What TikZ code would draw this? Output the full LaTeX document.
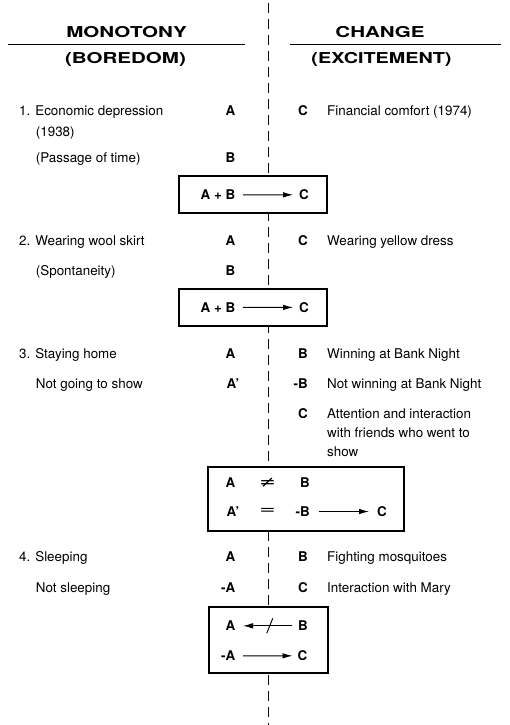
\documentclass[tikz,border=0pt]{standalone}
\usepackage{fontspec}
\setmainfont{TeX Gyre Heros}
\newfontfamily\relfont{DejaVu Sans}
\usetikzlibrary{arrows.meta,calc}
\begin{document}
\begin{tikzpicture}[x=1pt,y=-1pt,
  body/.style={inner sep=0pt, font=\fontsize{13.4}{16}\selectfont},
  let/.style={inner sep=0pt, font=\fontsize{13.4}{16}\selectfont\bfseries},
  hdr/.style={inner sep=0pt, font=\fontsize{15}{18}\selectfont\bfseries},
  rel/.style={inner sep=0pt, font=\fontsize{13.4}{16}\relfont},
  boxst/.style={draw, line width=1.8pt, fill=white, inner sep=0pt},
  arr/.style={line width=0.9pt, -{Latex[length=10pt,width=5.5pt]}},
  slashst/.style={line width=0.9pt},
  rulest/.style={line width=1.5pt},
  divider/.style={line width=0.9pt, dash pattern=on 10pt off 6pt}]
\useasboundingbox[fill=white] (0,0) rectangle (509,725);

% divider
\coordinate (dtop) at (268,3);
\coordinate (dbot) at (268,725);
\draw[divider] (dtop) -- (dbot);

% headers
\node[hdr, anchor=base] (mono) at (126.5,37.3) {\scalebox{1.37}[1]{MONOTONY}};
\coordinate (ul1a) at (8.3,44.3);
\coordinate (ul1b) at (245,44.3);
\draw[rulest] (ul1a) -- (ul1b);
\node[hdr, anchor=base] (bore) at (125.5,63.3) {\scalebox{1.37}[1]{(BOREDOM)}};
\node[hdr, anchor=base] (chg) at (380,37.3) {\scalebox{1.37}[1]{CHANGE}};
\coordinate (ul2a) at (290,44.3);
\coordinate (ul2b) at (501,44.3);
\draw[rulest] (ul2a) -- (ul2b);
\node[hdr, anchor=base] (exc) at (381.5,63.3) {\scalebox{1.32}[1]{(EXCITEMENT)}};

% ---------- 1
\node[body, anchor=base west] (l1) at (19,115.5) {1. Economic depression};
\node[body, anchor=base west] (l1b) at (35.7,136.5) {(1938)};
\node[body, anchor=base west] (l1c) at (35.7,162.8) {(Passage of time)};
\node[let, anchor=base east] (a1) at (235.5,115.5) {A};
\node[let, anchor=base east] (b1) at (235.5,162.8) {B};
\node[let, anchor=base east] (c1) at (308,115.5) {C};
\node[body, anchor=base west] (r1) at (327,115.5) {Financial comfort (1974)};

\node[boxst, minimum width=148pt, minimum height=37.3pt] (box1) at (253,194.6) {};
\node[let, anchor=base east] (ab1) at (235.5,199.7) {A + B};
\node[let, anchor=base west] (cb1) at (299,199.7) {C};
\draw[arr, shorten <=7.5pt, shorten >=6pt] (ab1) -- (cb1);

% ---------- 2
\node[body, anchor=base west] (l2) at (19,245) {2. Wearing wool skirt};
\node[body, anchor=base west] (l2b) at (35.7,275) {(Spontaneity)};
\node[let, anchor=base east] (a2) at (235.5,245) {A};
\node[let, anchor=base east] (b2) at (235.5,275) {B};
\node[let, anchor=base east] (c2) at (308,245) {C};
\node[body, anchor=base west] (r2) at (327,245) {Wearing yellow dress};

\node[boxst, minimum width=148pt, minimum height=36.7pt] (box2) at (253,307.6) {};
\node[let, anchor=base east] (ab2) at (235.5,312.3) {A + B};
\node[let, anchor=base west] (cb2) at (299,312.3) {C};
\draw[arr, shorten <=7.5pt, shorten >=6pt] (ab2) -- (cb2);

% ---------- 3
\node[body, anchor=base west] (l3) at (19,358.5) {3. Staying home};
\node[body, anchor=base west] (l3b) at (35.7,388) {Not going to show};
\node[let, anchor=base east] (a3) at (235.5,358.5) {A};
\node[let, anchor=base west] (ap3) at (226.5,388) {A’};
\node[let, anchor=base east] (b3) at (308,358.5) {B};
\node[body, anchor=base west] (r3a) at (327,358.5) {Winning at Bank Night};
\node[let, anchor=base east] (nb3) at (308,388) {-B};
\node[body, anchor=base west] (r3b) at (327,388) {Not winning at Bank Night};
\node[let, anchor=base east] (c3) at (308,418.5) {C};
\node[body, anchor=base west] (r3c) at (327,418.5) {Attention and interaction};
\node[body, anchor=base west] (r3d) at (327,437.5) {with friends who went to};
\node[body, anchor=base west] (r3e) at (327,456.5) {show};

\node[boxst, minimum width=195.7pt, minimum height=63.4pt] (box3) at (306.2,499) {};
\node[let, anchor=base east] (ba3) at (235.5,487.4) {A};
\node[rel] (neq3) at (267.6,483) {\scalebox{1.5}[1.15]{≠}};
\node[let, anchor=base] (bb3) at (305,487.4) {B};
\node[let, anchor=base west] (bap3) at (226.5,516.4) {A’};
\node[rel] (eq3) at (267.6,511.3) {\scalebox{1.5}[1]{=}};
\node[let, anchor=base east] (bnb3) at (310,516.4) {-B};
\node[let, anchor=base west] (bc3) at (377,516.4) {C};
\draw[arr, shorten <=9pt, shorten >=8pt] (bnb3) -- (bc3);

% ---------- 4
\node[body, anchor=base west] (l4) at (19,561.5) {4. Sleeping};
\node[body, anchor=base west] (l4b) at (35.7,592.5) {Not sleeping};
\node[let, anchor=base east] (a4) at (235.5,561.5) {A};
\node[let, anchor=base east] (na4) at (235.5,592.5) {-A};
\node[let, anchor=base east] (b4) at (308,561.5) {B};
\node[body, anchor=base west] (r4a) at (327,561.5) {Fighting mosquitoes};
\node[let, anchor=base east] (c4) at (308,592.5) {C};
\node[body, anchor=base west] (r4b) at (327,592.5) {Interaction with Mary};

\node[boxst, minimum width=119pt, minimum height=66pt] (box4) at (268.2,640.3) {};
\node[let, anchor=base east] (ba4) at (235.5,630.7) {A};
\node[let, anchor=base west] (bb4) at (298,630.7) {B};
\draw[arr, shorten <=6pt, shorten >=7.5pt] (bb4) -- (ba4);
\coordinate (x4) at ($(ba4.east)!0.5!(bb4.west)+(3,0)$);
\draw[slashst] ($(x4)+(-3,7.5)$) -- ($(x4)+(3,-7.5)$);
\node[let, anchor=base east] (bna4) at (235.5,660.7) {-A};
\node[let, anchor=base west] (bc4) at (297.5,660.7) {C};
\draw[arr, shorten <=7.5pt, shorten >=5pt] (bna4) -- (bc4);
\end{tikzpicture}
\end{document}
